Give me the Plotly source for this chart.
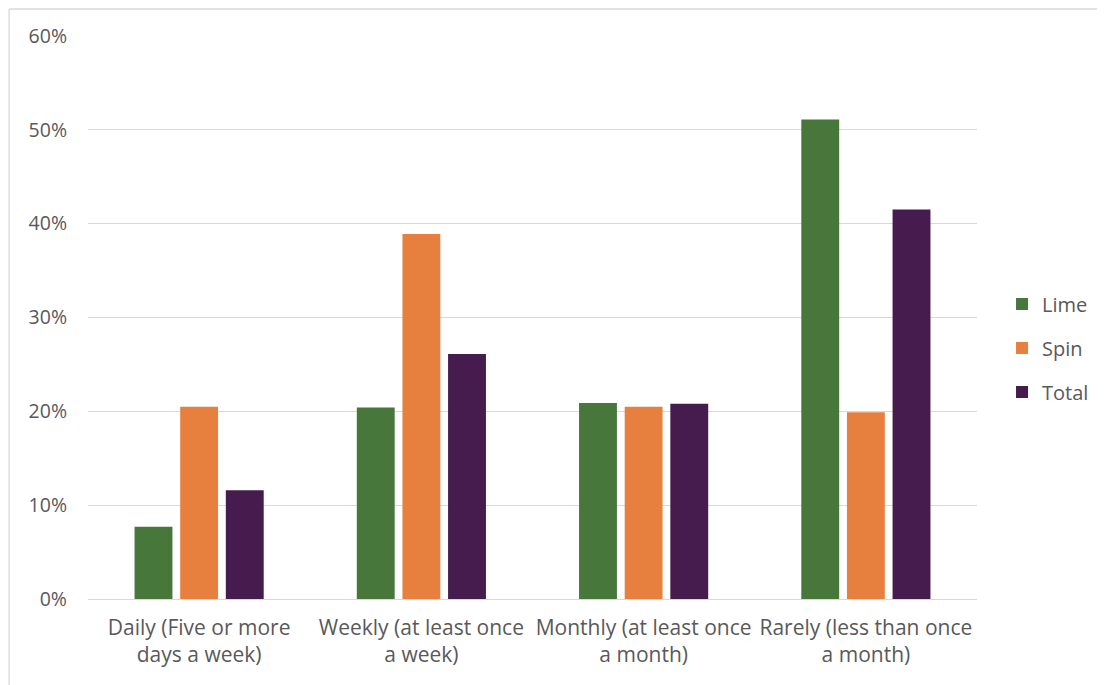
import plotly.graph_objects as go

categories = ["Daily (Five or more<br>days a week)", "Weekly (at least once<br>a week)",
              "Monthly (at least once<br>a month)", "Rarely (less than once<br>a month)"]
lime = [0.077, 0.204, 0.209, 0.511]
spin = [0.205, 0.389, 0.205, 0.199]
total = [0.116, 0.261, 0.208, 0.415]
series_names = ["Lime", "Spin", "Total"]
colors = ["#48773C", "#E7803E", "#461B4D"]

fig = go.Figure()
for name, vals, col in zip(series_names, [lime, spin, total], colors):
    fig.add_trace(go.Bar(x=categories, y=vals, name=name, marker_color=col,
                         marker_line_width=0, legendgroup=name))

font = "Open Sans, Liberation Sans, sans-serif"
fs = 19.5
bx = -79 / 890
by = 1 + 27 / 563
border = dict(color="#D9D9D9", width=1.3)
fig.update_layout(
    width=1097, height=677,
    margin=dict(l=80, r=127, t=28, b=86),
    paper_bgcolor="white", plot_bgcolor="white",
    barmode="group", bargap=0.384, bargroupgap=0.17,
    font=dict(family=font, size=fs, color="#595959"),
    legend=dict(x=1.027, y=0.446, xanchor="left", yanchor="middle",
                font=dict(size=20, color="#595959"), tracegroupgap=15,
                itemwidth=30),
    xaxis=dict(showgrid=False, showline=False, ticks="", tickfont=dict(size=21),
               ticklabelstandoff=14),
    yaxis=dict(range=[0, 0.6], dtick=0.1, tickformat=".0%", showgrid=True,
               gridcolor="#D9D9D9", gridwidth=1.3, zeroline=True, zerolinecolor="#D9D9D9",
               zerolinewidth=1.3, showline=False, ticks="", ticklabelstandoff=20,
               tickfont=dict(size=fs)),
    shapes=[
        dict(type="line", xref="paper", yref="paper", x0=bx, x1=1.2, y0=by, y1=by,
             line=border, layer="below"),
        dict(type="line", xref="paper", yref="paper", x0=bx, x1=bx, y0=-0.3, y1=by,
             line=border, layer="below"),
    ],
)
fig.write_html("out.html")
